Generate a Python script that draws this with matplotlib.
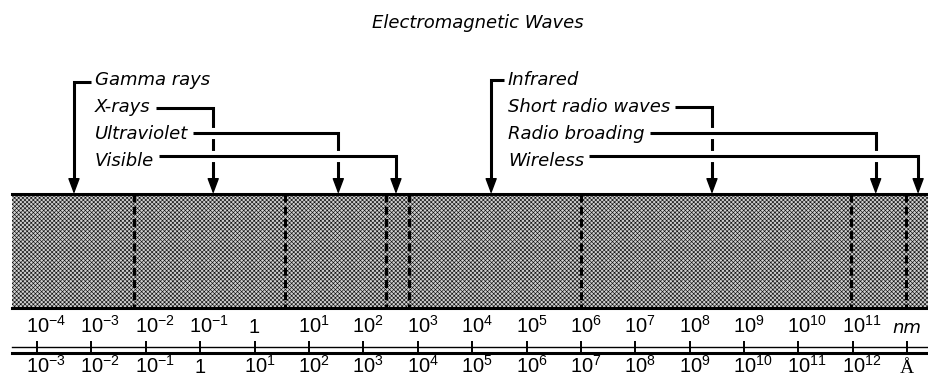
"""
Electromagnetic spectrum strip: a stippled band split into regions,
with labelled arrows above and a double wavelength scale (nm / Å) below.
"""
import matplotlib
matplotlib.use("Agg")
import matplotlib.pyplot as plt
import matplotlib.patheffects as pe
from matplotlib.transforms import blended_transform_factory

W, H, DPI = 929, 379, 100

# ─── Data (wavelengths as log10 of nm) ─────────────────
nm_exponents = list(range(-4, 12))          # 10^-4 ... 10^11 nm
angstrom_exponents = list(range(-3, 13))    # 10^-3 ... 10^12 Å
unit_tick_exponent = 12                     # last tick carries the unit names
unit_labels = ["nm", "Å"]

# region boundaries drawn as dashed lines inside the band
boundary_exponents = [-2.22, 0.56, 2.42, 2.84, 6.0, 10.96, 11.98]

left_labels = ["Gamma rays", "X-rays", "Ultraviolet", "Visible"]
left_arrow_exponents = [-3.32, -0.76, 1.54, 2.60]
right_labels = ["Infrared", "Short radio waves", "Radio broading", "Wireless"]
right_arrow_exponents = [4.35, 8.41, 11.42, 12.20]

# ─── Layout (pixels, y measured from the top) ──────────
X_MIN_EXP, X_MAX_EXP = -4.68, 12.40
BAND_LEFT = 12
BAND_TOP, BAND_BOTTOM = 194, 308
AXIS_THIN_Y, AXIS_THICK_Y = 347, 353
TICK_TOP, TICK_BOTTOM = 341, 352
UPPER_BASE, LOWER_BASE = 333, 373
LEFT_TEXT_X, RIGHT_TEXT_X = 95, 508
TEXT_BASES = [85, 112, 139, 166]
LEFT_LINE_YS = [82, 108, 133, 156]
RIGHT_LINE_YS = [80, 107, 133, 156]
LW = 2.2
LABEL_SIZE = 13
NUM_SIZE = 14.5

plt.rcParams["hatch.linewidth"] = 0.45
plt.rcParams["mathtext.fontset"] = "custom"
plt.rcParams["mathtext.rm"] = "Liberation Sans"
plt.rcParams["mathtext.it"] = "Liberation Sans:italic"

fig = plt.figure(figsize=(W / DPI, H / DPI), dpi=DPI)
fig.set_facecolor("white")
ax = fig.add_axes([0, 0, 1, 1])
ax.set_xscale("log")
ax.set_xlim(10.0 ** X_MIN_EXP, 10.0 ** X_MAX_EXP)
ax.set_ylim(H, 0)
ax.axis("off")

px_x = blended_transform_factory(ax.transAxes, ax.transData)

# ─── Title ──────────────────────────────────────────────
ax.text(478 / W, 28, "Electromagnetic Waves", transform=px_x,
        ha="center", va="baseline", fontsize=LABEL_SIZE, style="italic")

# ─── Band ───────────────────────────────────────────────
xmin_frac = BAND_LEFT / W
ax.axhspan(BAND_TOP, BAND_BOTTOM, xmin=xmin_frac, xmax=1,
           facecolor="#d0d0d0", edgecolor="#111111", hatch="xxxxxxxx", lw=0)
ax.axhline(BAND_TOP, xmin=xmin_frac, xmax=1, color="black", lw=LW)
ax.axhline(BAND_BOTTOM, xmin=xmin_frac, xmax=1, color="black", lw=LW)
ax.vlines([10.0 ** e for e in boundary_exponents], BAND_TOP, BAND_BOTTOM,
          colors="black", lw=2.2, linestyles=(0, (2.6, 1.4)))

# ─── Wavelength scale ───────────────────────────────────
ax.axhline(AXIS_THIN_Y, xmin=xmin_frac, xmax=1, color="black", lw=1.0)
ax.axhline(AXIS_THICK_Y, xmin=xmin_frac, xmax=1, color="black", lw=2.2)
tick_exps = nm_exponents + [unit_tick_exponent]
ax.vlines([10.0 ** e for e in tick_exps], TICK_TOP, TICK_BOTTOM,
          colors="black", lw=1.4)

for row_exps, base in ((nm_exponents, UPPER_BASE), (angstrom_exponents, LOWER_BASE)):
    for pos, e in zip(nm_exponents, row_exps):
        if e == 0:
            ax.text(10.0 ** pos, base, "1", ha="center", va="baseline",
                    fontsize=NUM_SIZE, family="Liberation Sans")
        else:
            ax.annotate(rf"$10^{{{e}}}$", xy=(10.0 ** pos, base), xytext=(-11, 0),
                        textcoords="offset pixels", ha="left", va="baseline",
                        fontsize=NUM_SIZE)

ax.text(10.0 ** unit_tick_exponent, UPPER_BASE, unit_labels[0], ha="center",
        va="baseline", fontsize=LABEL_SIZE, style="italic")
ax.text(10.0 ** unit_tick_exponent, LOWER_BASE, unit_labels[1], ha="center",
        va="baseline", fontsize=14, family="Liberation Serif")

# ─── Labelled arrows ────────────────────────────────────
fig.canvas.draw()
renderer = fig.canvas.get_renderer()
inv = ax.transData.inverted()
halo = [pe.Stroke(linewidth=8, foreground="white"), pe.Normal()]


def draw_group(labels, exps, text_x, line_ys):
    for i, (name, e, base, ly) in enumerate(zip(labels, exps, TEXT_BASES, line_ys)):
        t = ax.text(text_x / W, base, name, transform=px_x, ha="left",
                    va="baseline", fontsize=LABEL_SIZE, style="italic")
        bb = t.get_window_extent(renderer)
        if i == 0:
            start_px = bb.x0 - 4   # bracket leads into the first label
        else:
            start_px = bb.x1 + 5
        start = inv.transform((start_px, 0))[0]
        x = 10.0 ** e
        z = 3 + i
        ax.plot([start, x, x], [ly, ly, BAND_TOP - 9], color="black", lw=LW,
                solid_joinstyle="miter", solid_capstyle="butt",
                path_effects=halo, zorder=z)
        ax.annotate("", xy=(x, BAND_TOP), xytext=(x, BAND_TOP - 12),
                    arrowprops=dict(arrowstyle="-|>,head_length=0.8,head_width=0.3",
                                    mutation_scale=12, lw=1, color="black",
                                    shrinkA=0, shrinkB=0),
                    zorder=z)


draw_group(left_labels, left_arrow_exponents, LEFT_TEXT_X, LEFT_LINE_YS)
draw_group(right_labels, right_arrow_exponents, RIGHT_TEXT_X, RIGHT_LINE_YS)

fig.savefig("out.png", dpi=DPI, facecolor="white")
plt.close(fig)
